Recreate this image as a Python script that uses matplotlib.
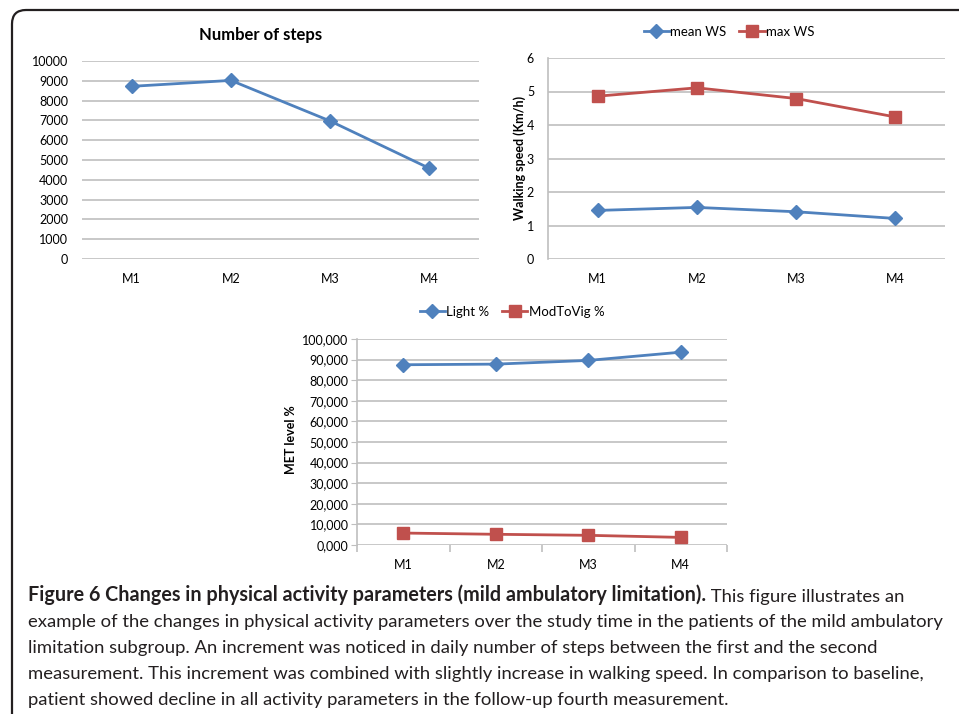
import matplotlib
matplotlib.use('Agg')
import matplotlib.pyplot as plt
from matplotlib.patches import FancyBboxPatch
from matplotlib.ticker import FuncFormatter

plt.rcParams['font.family'] = ['Lato', 'DejaVu Sans']

# data
visits = ['M1', 'M2', 'M3', 'M4']
steps = [8720, 9020, 6970, 4580]
mean_ws = [1.45, 1.54, 1.41, 1.21]
max_ws = [4.86, 5.11, 4.79, 4.24]
light_pct = [87.5, 87.8, 89.6, 93.6]
modtovig_pct = [5.8, 5.2, 4.7, 3.7]

caption_bold = 'Figure 6 Changes in physical activity parameters (mild ambulatory limitation).'
caption_lines = [
    'This figure illustrates an',
    'example of the changes in physical activity parameters over the study time in the patients of the mild ambulatory',
    'limitation subgroup. An increment was noticed in daily number of steps between the first and the second',
    'measurement. This increment was combined with slightly increase in walking speed. In comparison to baseline,',
    'patient showed decline in all activity parameters in the follow-up fourth measurement.',
]

BLUE = '#4F81BD'
RED = '#C0504D'
GRID = '#BFBFBF'
W, H = 959, 714

fig = plt.figure(figsize=(W / 100, H / 100), dpi=100)


def add_ax(left, top, right, bottom):
    return fig.add_axes([left / W, 1 - bottom / H, (right - left) / W, (bottom - top) / H])


def style(ax, ymax, ystep):
    x = range(len(visits))
    ax.set_xlim(-0.5, len(visits) - 0.5)
    ax.set_ylim(0, ymax)
    ax.set_yticks([i * ystep for i in range(int(round(ymax / ystep)) + 1)])
    ax.set_xticks(list(x))
    ax.set_xticklabels(visits)
    ax.grid(axis='y', color=GRID, linewidth=1.2)
    ax.set_axisbelow(True)
    for s in ['top', 'right', 'bottom', 'left']:
        ax.spines[s].set_visible(False)
    ax.tick_params(axis='both', length=0, labelsize=9, colors='#000000')
    ax.tick_params(axis='x', pad=10)
    ax.tick_params(axis='y', pad=10)


def legend(ax, xc, ypx):
    ax.legend(loc='center', bbox_to_anchor=(xc, ypx), ncol=2, frameon=False,
              fontsize=9.5, handlelength=1.9, handletextpad=0.1, columnspacing=1.0,
              borderaxespad=0, borderpad=0)


# panel 1: number of steps
ax1 = add_ax(82, 61, 479, 259)
style(ax1, 10000, 1000)
ax1.plot(range(4), steps, color=BLUE, lw=2, marker='D', ms=7)
fig.text(261 / W, 1 - 35 / H, 'Number of steps', fontsize=12, fontweight='bold',
         ha='center', va='center')

# panel 2: walking speed
ax2 = add_ax(548, 58, 945, 259)
style(ax2, 6, 1)
ax2.spines['left'].set_visible(True)
ax2.spines['left'].set_color(GRID)
ax2.spines['left'].set_linewidth(1.2)
ax2.plot(range(4), mean_ws, color=BLUE, lw=2, marker='D', ms=7, label='mean WS')
ax2.plot(range(4), max_ws, color=RED, lw=2, marker='s', ms=8, label='max WS')
fig.text(520 / W, 1 - 158 / H, 'Walking speed (Km/h)', fontsize=9, fontweight='bold',
         rotation=90, ha='center', va='center')
legend(ax2, (729 - 548) / 397, 1 + 26 / 201)

# panel 3: MET level
ax3 = add_ax(357, 339, 727, 545)
style(ax3, 100, 10)
ax3.spines['left'].set_visible(True)
ax3.spines['left'].set_color(GRID)
ax3.spines['left'].set_linewidth(1.2)
ax3.yaxis.set_major_formatter(FuncFormatter(lambda v, p: f'{v:.3f}'.replace('.', ',')))
ax3.tick_params(axis='y', length=4, color=GRID, pad=2)
ax3.set_xticks([i - 0.5 for i in range(5)], minor=True)
ax3.tick_params(axis='x', which='minor', length=5, color=GRID, width=1.2)
ax3.plot(range(4), light_pct, color=BLUE, lw=2, marker='D', ms=7, label='Light %')
ax3.plot(range(4), modtovig_pct, color=RED, lw=2, marker='s', ms=8, label='ModToVig %')
fig.text(291 / W, 1 - 440 / H, 'MET level %', fontsize=9, fontweight='bold',
         rotation=90, ha='center', va='center')
legend(ax3, (512 - 357) / 370, 1 + 27 / 206)

# rounded frame, cut by the right and bottom edges
frame = FancyBboxPatch((0.12, -0.5), 10.0, (H - 10) / 100 + 0.5,
                       boxstyle='round,pad=0,rounding_size=0.14',
                       transform=fig.dpi_scale_trans, fill=False,
                       edgecolor='#231F20', linewidth=1.6)
fig.add_artist(frame)

# caption
cap_color = '#231F20'
base = [601, 627, 653, 679, 705]
t0 = fig.text(28 / W, 1 - base[0] / H, caption_bold, fontsize=14.2, fontweight='bold',
              color=cap_color, va='baseline', ha='left')
ax1.annotate(' ' + caption_lines[0], xy=(1, 0), xycoords=t0, va='bottom', ha='left',
             fontsize=13.3, color=cap_color, annotation_clip=False)
for line, b in zip(caption_lines[1:], base[1:]):
    fig.text(28 / W, 1 - b / H, line, fontsize=13.3, color=cap_color, va='baseline', ha='left')

fig.savefig('out.png', dpi=100)
